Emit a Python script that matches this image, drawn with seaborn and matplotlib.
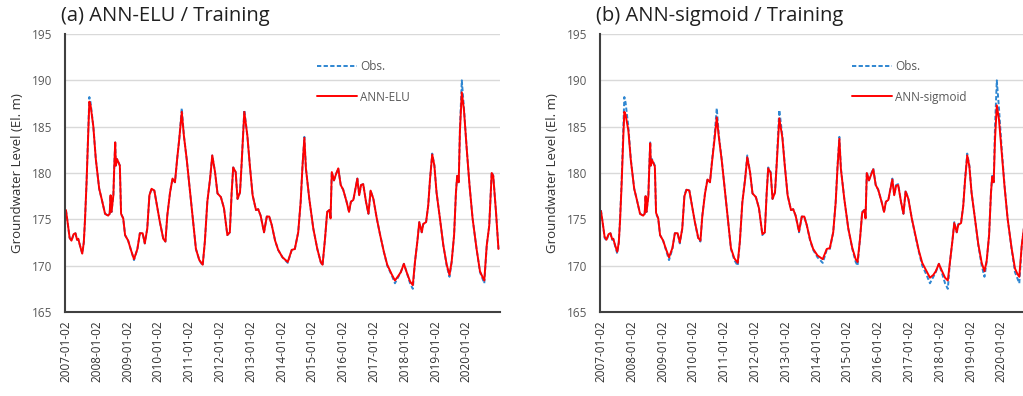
import numpy as np
import pandas as pd
import matplotlib
matplotlib.use("Agg")
import matplotlib.pyplot as plt
import seaborn as sns

# time in decimal years
t_years = [2007.00, 2007.05, 2007.12, 2007.18, 2007.25, 2007.31, 2007.36, 2007.40, 2007.47, 2007.53,
           2007.58, 2007.62, 2007.67, 2007.73, 2007.76, 2007.80, 2007.89, 2007.97, 2008.08, 2008.16,
           2008.27, 2008.37, 2008.42, 2008.45, 2008.48, 2008.54, 2008.57, 2008.60, 2008.62, 2008.66,
           2008.70, 2008.75, 2008.79, 2008.86, 2008.92, 2009.02, 2009.10, 2009.21, 2009.32, 2009.40,
           2009.49, 2009.56, 2009.64, 2009.71, 2009.78, 2009.87, 2009.97, 2010.05, 2010.16, 2010.23,
           2010.29, 2010.38, 2010.46, 2010.54, 2010.61, 2010.68, 2010.76, 2010.83, 2010.92, 2011.03,
           2011.13, 2011.22, 2011.33, 2011.44, 2011.51, 2011.59, 2011.68, 2011.75, 2011.84, 2011.92,
           2012.03, 2012.13, 2012.24, 2012.32, 2012.38, 2012.43, 2012.51, 2012.57, 2012.65, 2012.70,
           2012.79, 2012.89, 2012.97, 2013.06, 2013.17, 2013.24, 2013.32, 2013.43, 2013.52, 2013.60,
           2013.68, 2013.79, 2013.89, 2014.03, 2014.20, 2014.33, 2014.43, 2014.54, 2014.62, 2014.68,
           2014.74, 2014.79, 2014.90, 2015.03, 2015.16, 2015.27, 2015.33, 2015.41, 2015.48, 2015.55,
           2015.59, 2015.63, 2015.70, 2015.77, 2015.84, 2015.92, 2016.00, 2016.11, 2016.19, 2016.25,
           2016.33, 2016.38, 2016.46, 2016.52, 2016.58, 2016.65, 2016.74, 2016.82, 2016.89, 2016.98,
           2017.09, 2017.20, 2017.32, 2017.43, 2017.57, 2017.68, 2017.79, 2017.87, 2017.97, 2018.06,
           2018.17, 2018.26, 2018.33, 2018.41, 2018.47, 2018.55, 2018.60, 2018.69, 2018.76, 2018.82,
           2018.89, 2018.96, 2019.03, 2019.14, 2019.25, 2019.36, 2019.45, 2019.52, 2019.60, 2019.66,
           2019.70, 2019.75, 2019.79, 2019.85, 2019.92, 2020.01, 2020.10, 2020.20, 2020.33, 2020.44,
           2020.52, 2020.58, 2020.66, 2020.74, 2020.82, 2020.87, 2020.96, 2021.04]

obs = [176.0, 174.8, 173.0, 172.7, 173.4, 173.5, 172.8, 172.9, 172.0, 171.3,
       172.5, 175.0, 179.0, 185.0, 188.2, 187.6, 185.0, 181.5, 178.3, 177.2,
       175.6, 175.4, 175.6, 177.6, 175.8, 177.6, 180.8, 183.3, 180.8, 181.5,
       181.2, 180.8, 175.6, 175.1, 173.3, 172.7, 171.8, 170.6, 171.8, 173.5,
       173.5, 172.4, 174.0, 177.6, 178.3, 178.1, 176.2, 174.7, 172.9, 172.6,
       175.4, 177.9, 179.4, 179.0, 181.5, 183.7, 187.0, 184.0, 181.5, 177.9,
       174.7, 171.8, 170.6, 170.0, 172.6, 176.9, 179.4, 181.9, 180.1, 177.8,
       177.4, 176.2, 173.3, 173.6, 177.9, 180.6, 180.1, 177.2, 177.9, 180.8,
       186.8, 184.0, 180.8, 177.6, 176.0, 176.1, 175.4, 173.6, 175.3, 175.3,
       174.4, 172.7, 171.7, 170.9, 170.3, 171.7, 171.8, 173.6, 176.9, 180.8,
       183.9, 180.5, 177.2, 174.0, 171.8, 170.4, 170.0, 172.9, 175.8, 176.0,
       175.1, 180.1, 179.2, 179.9, 180.5, 178.7, 178.2, 176.9, 175.8, 176.9,
       177.1, 178.0, 179.4, 177.6, 178.7, 178.8, 176.9, 175.6, 178.1, 177.2,
       175.1, 173.3, 171.5, 170.0, 169.0, 168.1, 168.8, 169.3, 170.2, 169.3,
       168.1, 167.5, 170.4, 172.7, 174.7, 173.6, 174.5, 174.7, 176.5, 179.4,
       182.1, 180.8, 177.9, 175.1, 172.2, 170.0, 168.8, 170.4, 173.3, 177.9,
       179.7, 179.0, 184.8, 190.0, 187.0, 182.6, 178.7, 175.1, 171.8, 169.3,
       168.6, 168.1, 172.2, 174.3, 180.1, 179.7, 175.8, 171.8]

ann_elu = [176.0, 174.8, 173.0, 172.7, 173.4, 173.5, 172.8, 172.9, 172.0, 171.3,
           172.5, 175.0, 179.0, 185.0, 187.7, 187.3, 185.0, 181.5, 178.3, 177.2,
           175.6, 175.4, 175.6, 177.6, 175.8, 177.6, 180.8, 183.3, 180.8, 181.5,
           181.2, 180.8, 175.6, 175.1, 173.3, 172.7, 171.8, 170.7, 171.8, 173.5,
           173.5, 172.4, 174.0, 177.6, 178.3, 178.1, 176.2, 174.7, 172.9, 172.6,
           175.4, 177.9, 179.4, 179.0, 181.5, 183.7, 186.6, 184.0, 181.5, 177.9,
           174.7, 171.8, 170.6, 170.1, 172.6, 176.9, 179.4, 181.9, 180.1, 177.8,
           177.4, 176.2, 173.3, 173.6, 177.9, 180.6, 180.1, 177.2, 177.9, 180.8,
           186.6, 184.0, 180.8, 177.6, 176.0, 176.1, 175.4, 173.6, 175.3, 175.3,
           174.4, 172.7, 171.7, 170.9, 170.4, 171.7, 171.8, 173.6, 176.9, 180.8,
           183.8, 180.5, 177.2, 174.0, 171.8, 170.4, 170.1, 172.9, 175.8, 176.0,
           175.1, 180.1, 179.2, 179.9, 180.5, 178.7, 178.2, 176.9, 175.8, 176.9,
           177.1, 178.0, 179.4, 177.6, 178.7, 178.8, 176.9, 175.6, 178.1, 177.2,
           175.1, 173.3, 171.5, 170.1, 169.1, 168.4, 168.9, 169.3, 170.2, 169.3,
           168.3, 167.9, 170.4, 172.7, 174.7, 173.6, 174.5, 174.7, 176.5, 179.4,
           182.0, 180.8, 177.9, 175.1, 172.2, 170.1, 169.0, 170.4, 173.3, 177.9,
           179.7, 179.0, 184.6, 188.7, 186.8, 182.6, 178.7, 175.1, 171.8, 169.4,
           168.8, 168.4, 172.2, 174.3, 180.0, 179.7, 175.8, 171.8]

ann_sigmoid = [175.9, 174.8, 173.1, 172.8, 173.4, 173.5, 172.9, 172.9, 172.1, 171.5,
               172.5, 174.8, 178.6, 184.2, 186.6, 186.3, 184.6, 181.4, 178.3, 177.2,
               175.6, 175.4, 175.6, 177.5, 175.8, 177.5, 180.6, 183.2, 180.8, 181.4,
               181.1, 180.7, 175.7, 175.1, 173.3, 172.7, 171.9, 170.9, 171.9, 173.5,
               173.5, 172.5, 174.0, 177.5, 178.2, 178.1, 176.2, 174.7, 173.0, 172.7,
               175.3, 177.8, 179.3, 179.0, 181.3, 183.4, 186.0, 183.8, 181.4, 177.9,
               174.7, 171.9, 170.8, 170.3, 172.6, 176.8, 179.3, 181.7, 180.1, 177.8,
               177.4, 176.2, 173.4, 173.6, 177.8, 180.5, 180.0, 177.2, 177.9, 180.6,
               185.9, 183.8, 180.7, 177.6, 176.0, 176.1, 175.4, 173.7, 175.3, 175.3,
               174.4, 172.8, 171.8, 171.1, 170.7, 171.8, 171.9, 173.6, 176.8, 180.6,
               183.7, 180.4, 177.2, 174.0, 171.9, 170.7, 170.4, 172.9, 175.7, 176.0,
               175.1, 180.0, 179.2, 179.8, 180.4, 178.7, 178.2, 176.9, 175.8, 176.9,
               177.1, 178.0, 179.3, 177.6, 178.6, 178.7, 176.9, 175.6, 178.0, 177.2,
               175.1, 173.4, 171.6, 170.3, 169.4, 168.7, 169.0, 169.4, 170.2, 169.5,
               168.7, 168.4, 170.4, 172.7, 174.6, 173.6, 174.4, 174.6, 176.4, 179.2,
               181.9, 180.7, 177.9, 175.1, 172.3, 170.3, 169.4, 170.5, 173.3, 177.8,
               179.6, 179.0, 183.5, 187.3, 185.8, 182.2, 178.6, 175.1, 171.9, 169.7,
               169.1, 168.8, 172.2, 174.3, 179.8, 179.6, 175.8, 171.9]

tick_years = list(range(2007, 2021))
tick_labels = [f"{y}-01-02" for y in tick_years]
titles = ["(a) ANN-ELU / Training", "(b) ANN-sigmoid / Training"]
model_names = ["ANN-ELU", "ANN-sigmoid"]
y_label = "Groundwater Level (El. m)"

sns.set_theme(style="white")
FONT = ["Open Sans", "DejaVu Sans"]
plt.rcParams["font.family"] = FONT

OBS_C = "#2E86D1"
RED = "#FF0000"
GRID_C = "#D9D9D9"
TXT_C = "#595959"

fig = plt.figure(figsize=(10.23, 3.96), dpi=100)
W, H = 1023, 396
ax_w = 435 / W
positions = [(65 / W, 84 / H, ax_w, 278 / H), (600 / W, 84 / H, ax_w, 278 / H)]

for i, (pos, title, mname, model) in enumerate(zip(positions, titles, model_names, [ann_elu, ann_sigmoid])):
    ax = fig.add_axes(pos)
    sns.lineplot(x=t_years, y=obs, ax=ax, color=OBS_C, linestyle=(0, (2.2, 1.2)),
                 linewidth=1.4, label="Obs.", sort=False, estimator=None)
    sns.lineplot(x=t_years, y=model, ax=ax, color=RED, linewidth=1.4,
                 label=mname, sort=False, estimator=None)
    ax.set_xlim(2006.97, 2021.09)
    ax.set_ylim(165, 195)
    ax.set_yticks([165, 170, 175, 180, 185, 190, 195])
    ax.set_xticks(tick_years)
    ax.set_xticklabels(tick_labels, rotation=90, fontsize=8.5, color="#303030")
    ax.tick_params(axis="y", labelsize=8.5, labelcolor=TXT_C, length=0, pad=9)
    ax.tick_params(axis="x", length=0, pad=6)
    for g in [170, 175, 180, 185, 190, 195]:
        ax.axhline(g, color=GRID_C, linewidth=1.0, zorder=0)
    for s in ["top", "right"]:
        ax.spines[s].set_visible(False)
    for s in ["left", "bottom"]:
        ax.spines[s].set_color("#404040")
        ax.spines[s].set_linewidth(1.5)
    ax.set_xlabel("")
    ax.set_ylabel(y_label, fontsize=9.5, color="#303030", labelpad=6)
    ax.set_title(title, loc="left", fontsize=14.5, color="#202020", x=-0.01, pad=9)
    leg = ax.legend(loc="upper left", bbox_to_anchor=(0.58, 0.905), frameon=False,
                    fontsize=8.5, handlelength=3.4, labelspacing=1.45, handletextpad=0.2,
                    borderpad=0, borderaxespad=0)
    for txt in leg.get_texts():
        txt.set_color(TXT_C)

fig.savefig("out.png", dpi=100)
